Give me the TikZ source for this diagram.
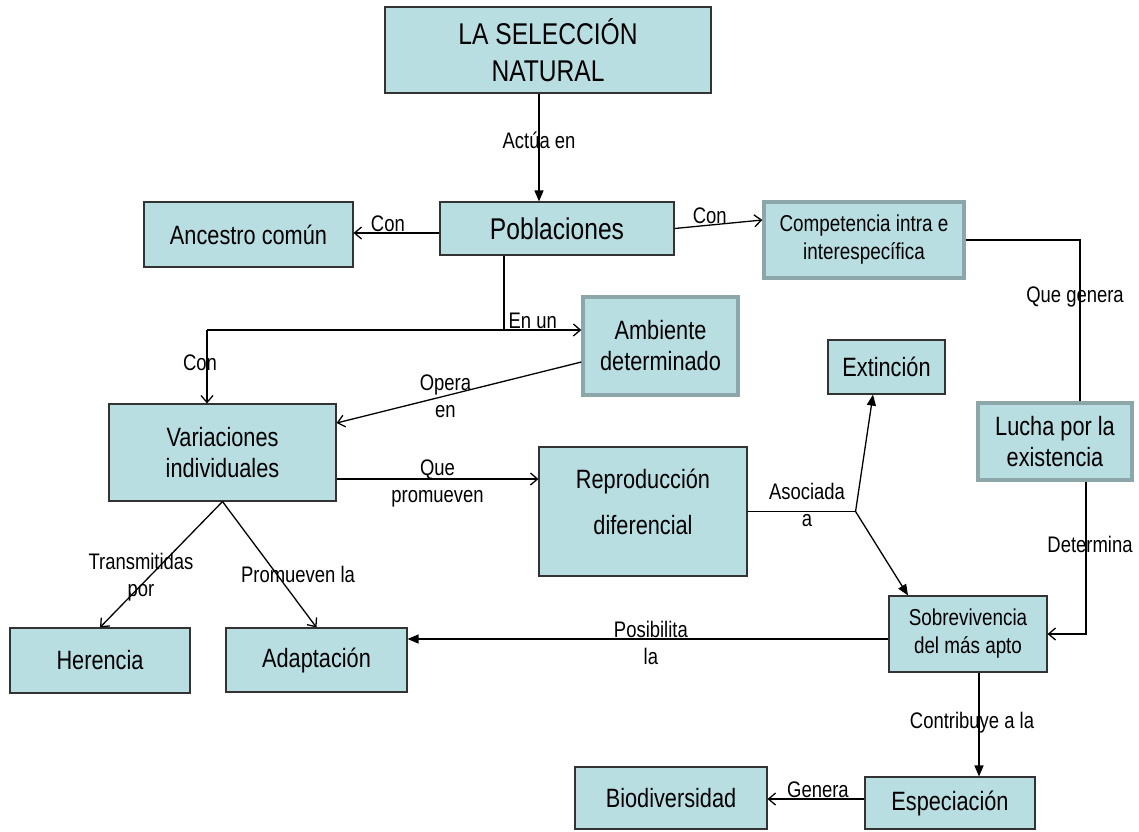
\documentclass[tikz,border=0pt]{standalone}
\usepackage{fontspec}
\setmainfont[FakeStretch=0.82]{Liberation Sans}
\usetikzlibrary{arrows.meta,calc}
\definecolor{cajafill}{RGB}{184,222,226}
\definecolor{cajaborde}{RGB}{140,166,170}

\begin{document}
\begin{tikzpicture}[x=1pt, y=-1pt,
caja/.style={draw=black!80, line width=1.1pt, fill=cajafill, inner sep=2pt, align=center},
cajagruesa/.style={caja, draw=cajaborde, line width=3.3pt},
grande/.style={font=\fontsize{30}{37}\selectfont},
normal/.style={font=\fontsize{26.5}{31}\selectfont},
chica/.style={font=\fontsize{23}{28}\selectfont},
etiqueta/.style={inner sep=1pt, align=center, font=\fontsize{22.5}{27}\selectfont},
linea/.style={line width=1.3pt},
abierta/.style={linea, -{Straight Barb[length=7pt,width=12pt]}},
llena/.style={linea, -{Triangle[length=11pt,width=9pt]}},
]
\useasboundingbox (0,0) rectangle (1139,831);

%%%%%%%%%%%%%%%%%%%%%%%% CAJAS %%%%%%%%%%%%%%%%%%%%%%%%%%%
\node[caja, grande, minimum width=326pt, minimum height=86pt] (sel) at (548,50) {LA SELECCIÓN\\NATURAL};
\node[caja, grande, minimum width=234pt, minimum height=53pt] (pob) at (557,228.5) {Poblaciones};
\node[caja, normal, minimum width=209pt, minimum height=65pt] (anc) at (248.5,234.5) {Ancestro común};
\node[cajagruesa, chica, minimum width=200pt, minimum height=76pt] (comp) at (864,240) {Competencia intra e\\interespecífica};
\node[cajagruesa, normal, minimum width=155pt, minimum height=98pt] (amb) at (660.5,346) {Ambiente\\determinado};
\node[caja, normal, minimum width=117pt, minimum height=54pt] (ext) at (886.5,367) {Extinción};
\node[cajagruesa, normal, minimum width=154pt, minimum height=77pt] (luc) at (1055,441.5) {Lucha por la\\existencia};
\node[caja, normal, minimum width=227pt, minimum height=97pt] (var) at (222.5,452.5) {Variaciones\\individuales};
\node[caja, font=\fontsize{26.5}{46}\selectfont, text depth=19pt, minimum width=208pt, minimum height=129pt] (rep) at (643,511.5) {Reproducción\\diferencial};
\node[caja, normal, minimum width=180pt, minimum height=65pt] (her) at (100,660.5) {Herencia};
\node[caja, normal, minimum width=181pt, minimum height=64pt] (ada) at (316.5,660) {Adaptación};
\node[caja, chica, minimum width=158pt, minimum height=76pt] (sob) at (968,634) {Sobrevivencia\\del más apto};
\node[caja, normal, minimum width=170pt, minimum height=52pt] (esp) at (950,803) {Especiación};
\node[caja, normal, minimum width=192pt, minimum height=62pt] (bio) at (671,798) {Biodiversidad};

%%%%%%%%%%%%%%%%%%%%%%%% CONECTORES %%%%%%%%%%%%%%%%%%%%%%%%%%%
\coordinate (bajada) at ([xshift=-53pt]pob.south);
\coordinate (enun) at ([yshift=16pt]amb.west);
\coordinate (nudo) at ([xshift=108pt]rep.east);

\draw[llena] ([xshift=-9pt]sel.south) -- ([xshift=-9pt]sel.south |- pob.north)
  node[etiqueta, pos=.43]{Actúa en};
\draw[abierta] ([yshift=-4.5pt]pob.west) -- ([yshift=-4.5pt]pob.west -| anc.east)
  node[etiqueta, above, pos=.6]{Con};
\draw[abierta] (pob.east) -- ([yshift=20pt]comp.west)
  node[etiqueta, above, pos=.4]{Con};
\draw[linea] (bajada) -- (bajada |- enun);
\draw[abierta] ([xshift=-15.5pt]var.north |- enun) -- (enun)
  node[etiqueta, above, pos=.87]{En un};
\draw[abierta] ([xshift=-15.5pt]var.north |- enun) -- ([xshift=-15.5pt]var.north)
  node[etiqueta, pos=.45, xshift=-7pt]{Con};
\draw[abierta] ([yshift=-16pt]amb.west) -- ([yshift=29.5pt]var.east)
  node[etiqueta, pos=.555]{Opera\\en};
\draw[abierta] ([yshift=-26.5pt]var.east) -- ([yshift=-26.5pt]var.east -| rep.west)
  node[etiqueta, pos=.5, yshift=-4pt]{Que\\promueven};
\draw[abierta] (var.south) -- (her.north)
  node[etiqueta, pos=.6, xshift=-8pt]{Transmitidas\\por};
\draw[abierta] (var.south) -- (ada.north)
  node[etiqueta, pos=.58, xshift=21pt]{Promueven la};
\draw[linea] (rep.east) -- (nudo)
  node[etiqueta, pos=.55, yshift=7pt]{Asociada\\a};
\draw[llena] (nudo) -- ([xshift=-13.5pt]ext.south);
\draw[llena] (nudo) -- ([xshift=-60pt]sob.north);
\draw[linea] (comp.east) -| ([xshift=25pt]luc.north)
  node[etiqueta, pos=.678, xshift=-5pt]{Que genera};
\draw[abierta] ([xshift=31pt]luc.south) |- (sob.east)
  node[etiqueta, pos=.205, xshift=4pt]{Determina};
\draw[llena] ([yshift=-5pt]sob.west) -- ([yshift=-5pt]sob.west -| ada.east)
  node[etiqueta, pos=.494, yshift=-3.5pt]{Posibilita\\la};
\draw[llena] ([xshift=11pt]sob.south) -- ([xshift=11pt]sob.south |- esp.north)
  node[etiqueta, pos=.486, xshift=-7pt]{Contribuye a la};
\draw[abierta] ([yshift=4pt]esp.west) -- ([yshift=4pt]esp.west -| bio.east)
  node[etiqueta, above, pos=.48]{Genera};
\end{tikzpicture}
\end{document}
